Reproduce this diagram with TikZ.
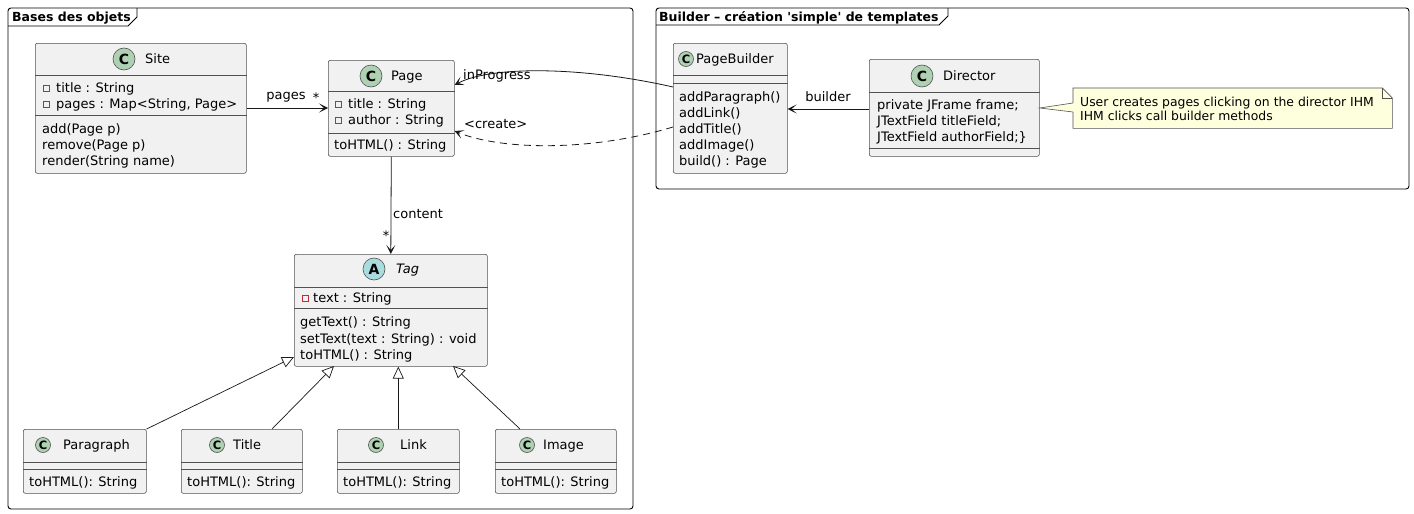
\documentclass[tikz,border=0pt]{standalone}
\usepackage{fontspec}
\setmainfont{DejaVu Sans}
\usetikzlibrary{arrows.meta}
\definecolor{boxfill}{HTML}{F1F1F1}
\definecolor{boxline}{HTML}{181818}
\definecolor{classicon}{HTML}{ADD1B2}
\definecolor{absicon}{HTML}{A9DCDF}
\definecolor{notefill}{HTML}{FEFFDD}
\definecolor{privred}{HTML}{C82930}

\begin{document}
\begin{tikzpicture}[
x=1pt, y=-1pt,
every node/.style={font=\fontsize{13}{15}\selectfont},
cls/.style={rectangle, draw=boxline!75, fill=boxfill, line width=0.6pt, rounded corners=2pt, anchor=north west, inner sep=0},
sep/.style={draw=boxline!75, line width=0.6pt},
txt/.style={anchor=west, inner sep=0, text height=9.5pt, text depth=0.5pt},
circ/.style={circle, draw=boxline!75, fill=classicon, line width=0.6pt, minimum size=22pt, inner sep=0, font=\fontsize{14}{14}\selectfont\bfseries},
smallcirc/.style={circ, minimum size=15pt, font=\fontsize{11.5}{12}\selectfont\bfseries},
priv/.style={rectangle, draw=privred, line width=0.7pt, minimum size=6pt, inner sep=0},
assoc/.style={draw=boxline, line width=0.8pt, -{Stealth[length=9pt, width=9pt, inset=5pt]}},
inherit/.style={draw=boxline, line width=0.7pt, -{Triangle[open, length=12pt, width=11pt]}},
frame/.style={draw=black, line width=0.9pt, rounded corners=3pt},
]
\useasboundingbox (0,0) rectangle (1414,514);
\fill[white] (0,0) rectangle (1414,514);

% packages
\draw[frame] (8,8) rectangle (633,509);
\draw[line width=0.9pt] (8,26) -- (128,26) -- (137,17) -- (137,8);
\node[txt, font=\fontsize{12.5}{14}\selectfont\bfseries] (basestitle) at (12,17) {Bases des objets};
\draw[frame] (656,8) rectangle (1409,189);
\draw[line width=0.9pt] (656,25) -- (939,25) -- (948,16) -- (948,8);
\node[txt, font=\fontsize{12.5}{14}\selectfont\bfseries] (buildertitle) at (659,17) {Builder – création \textquotesingle simple\textquotesingle{} de templates};

% Site
\node[cls, minimum width=211pt, minimum height=130pt] (site) at (35,43) {};
\node[circ] (sitec) at (124,59) {C};
\node[txt] (sitename) at (145,59) {Site};
\draw[sep] (site.west |- 0,75) -- (site.east |- 0,75);
\draw[sep] (site.west |- 0,115) -- (site.east |- 0,115);
\node[priv] at (46.5,88) {};
\node[txt] at (56,88) {title : String};
\node[priv] at (46.5,104) {};
\node[txt] at (56,104) {pages : Map<String, Page>};
\node[txt] at (42,129) {add(Page p)};
\node[txt] at (42,145) {remove(Page p)};
\node[txt] at (42,161) {render(String name)};

% Page
\node[cls, minimum width=126pt, minimum height=96pt] (page) at (328,60) {};
\node[circ] (pagec) at (371,76) {C};
\node[txt] (pagename) at (391,76) {Page};
\draw[sep] (page.west |- 0,91) -- (page.east |- 0,91);
\draw[sep] (page.west |- 0,133) -- (page.east |- 0,133);
\node[priv] at (338.5,104) {};
\node[txt] at (348,104) {title : String};
\node[priv] at (338.5,120) {};
\node[txt] at (348,120) {author : String};
\node[txt] at (334,145) {toHTML() : String};

% Tag
\node[cls, minimum width=193pt, minimum height=112pt] (tag) at (294,254) {};
\node[circ, fill=absicon] (tagc) at (374,269) {A};
\node[txt, font=\fontsize{13}{15}\selectfont\itshape] (tagname) at (396,269) {Tag};
\draw[sep] (tag.west |- 0,287) -- (tag.east |- 0,287);
\draw[sep] (tag.west |- 0,308) -- (tag.east |- 0,308);
\node[priv] at (305,298) {};
\node[txt] at (313,298) {text : String};
\node[txt] at (300,322) {getText() : String};
\node[txt] at (300,338.5) {setText(text : String) : void};
\node[txt] at (300,355) {toHTML() : String};

% Tag subclasses
\node[cls, minimum width=123pt, minimum height=64pt] (paragraph) at (23,429) {};
\node[smallcirc] at (43,445) {C};
\node[txt] at (63,445) {Paragraph};
\draw[sep] (paragraph.west |- 0,462) -- (paragraph.east |- 0,462);
\draw[sep] (paragraph.west |- 0,469) -- (paragraph.east |- 0,469);
\node[txt] at (29,482) {toHTML(): String};

\node[cls, minimum width=121pt, minimum height=64pt] (title) at (181,429) {};
\node[smallcirc] at (217,445) {C};
\node[txt] at (233,445) {Title};
\draw[sep] (title.west |- 0,462) -- (title.east |- 0,462);
\draw[sep] (title.west |- 0,469) -- (title.east |- 0,469);
\node[txt] at (187,482) {toHTML(): String};

\node[cls, minimum width=122pt, minimum height=64pt] (link) at (337,429) {};
\node[smallcirc] at (376,445) {C};
\node[txt] at (400,445) {Link};
\draw[sep] (link.west |- 0,462) -- (link.east |- 0,462);
\draw[sep] (link.west |- 0,469) -- (link.east |- 0,469);
\node[txt] at (343,482) {toHTML(): String};

\node[cls, minimum width=121pt, minimum height=64pt] (image) at (495,429) {};
\node[smallcirc] at (527,445) {C};
\node[txt] at (543,445) {Image};
\draw[sep] (image.west |- 0,462) -- (image.east |- 0,462);
\draw[sep] (image.west |- 0,469) -- (image.east |- 0,469);
\node[txt] at (501,482) {toHTML(): String};

% PageBuilder
\node[cls, minimum width=114pt, minimum height=130pt] (pagebuilder) at (673,43) {};
\node[smallcirc] at (686,59) {C};
\node[txt] at (696,59) {PageBuilder};
\draw[sep] (pagebuilder.west |- 0,75) -- (pagebuilder.east |- 0,75);
\draw[sep] (pagebuilder.west |- 0,83) -- (pagebuilder.east |- 0,83);
\node[txt] at (679,97) {addParagraph()};
\node[txt] at (679,113) {addLink()};
\node[txt] at (679,129) {addTitle()};
\node[txt] at (679,145) {addImage()};
\node[txt] at (679,161) {build() : Page};

% Director
\node[cls, minimum width=170pt, minimum height=97pt] (director) at (869,59) {};
\node[circ] at (922,76) {C};
\node[txt] at (943,76) {Director};
\draw[sep] (director.west |- 0,92) -- (director.east |- 0,92);
\draw[sep] (director.west |- 0,148) -- (director.east |- 0,148);
\node[txt] at (877,105) {private JFrame frame;};
\node[txt] at (877,121) {JTextField titleField;};
\node[txt] at (877,137) {JTextField authorField;\}};

% note
\node[minimum width=319pt, minimum height=40pt, anchor=north west, inner sep=0] (note) at (1073,88) {};
\filldraw[fill=notefill, draw=boxline!75, line width=0.6pt] (note.north west) -- ([xshift=-10pt]note.north east) -- ([yshift=-10pt]note.north east) -- (note.south east) -- (note.south west) -- cycle;
\draw[boxline!75, line width=0.6pt] ([xshift=-10pt]note.north east) -- ([xshift=-10pt, yshift=-10pt]note.north east) -- ([yshift=-10pt]note.north east);
\fill[notefill] (director.east |- 0,108) -- (1074,103) -- (1074,112) -- cycle;
\draw[boxline!75, line width=0.6pt] (note.west |- 0,103) -- (director.east |- 0,108) -- (note.west |- 0,112);
\node[txt, align=left, font=\fontsize{12.4}{14}\selectfont, text height=, text depth=] at (1080,108.5) {User creates pages clicking on the director IHM\\IHM clicks call builder methods};

% relations
\draw[assoc] (site.east |- 0,108) -- (page.west |- 0,108);
\node at (286,97) {pages};
\node at (316,98) {*};
\draw[assoc] (page.south) -- (tag.north);
\node[txt] at (393,214) {content};
\node at (386,236) {*};
\draw[assoc] (pagebuilder.west |- 0,87) .. controls (580,66) and (490,66) .. (page.east |- 0,85);
\node[txt] at (463,75) {inProgress};
\draw[assoc, dash pattern=on 7pt off 5pt] (pagebuilder.west |- 0,127) .. controls (590,152) and (500,150) .. (page.east |- 0,131);
\node[txt] at (464,124) {<create>};
\draw[assoc] (director.west |- 0,109) -- (pagebuilder.east |- 0,109);
\node at (828,97) {builder};

\draw[inherit] (paragraph.north east) -- (tag.west |- 0,357);
\draw[inherit] (272,429) -- (334,366);
\draw[inherit] (link.north) -- (link.north |- tag.south);
\draw[inherit] (520,429) -- (453,366);
\end{tikzpicture}
\end{document}
